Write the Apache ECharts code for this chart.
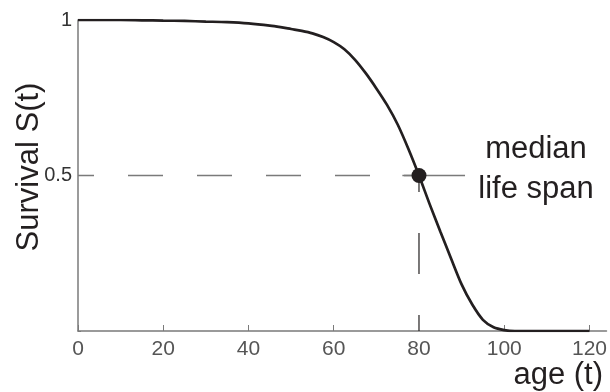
<!DOCTYPE html>
<html>
<head>
<meta charset="utf-8">
<script src="https://cdn.jsdelivr.net/npm/echarts@6/dist/echarts.min.js"></script>
<style>html,body{margin:0;padding:0;background:#fff}#c{width:610px;height:392px}</style>
</head>
<body>
<div id="c"></div>
<script>
// Data
var ages = [0, 5, 10, 15, 20, 25, 30, 35, 40, 45, 47.5, 50, 52.5, 55, 57.5, 60, 62.5, 65, 67.5, 70, 72.5, 75, 77.5, 80, 82.5, 85, 87.5, 90, 92.5, 95, 97.5, 100, 102.5, 105, 110, 115, 120];
var survival = [1.000, 1.000, 1.000, 0.999, 0.998, 0.997, 0.995, 0.993, 0.989, 0.982, 0.977, 0.971, 0.965, 0.957, 0.945, 0.929, 0.906, 0.872, 0.829, 0.780, 0.727, 0.664, 0.586, 0.500, 0.408, 0.320, 0.234, 0.150, 0.085, 0.036, 0.012, 0.003, 0.000, 0.000, 0.000, 0.000, 0.000];
var medianAge = 80;
var medianSurvival = 0.5;
var guideStartAge = 0;
var guideSolidFrom = 76.1;
var guideSolidTo = 90.8;
var xTicks = [0, 20, 40, 60, 80, 100, 120];
var xTickMarks = [0, 20, 40, 60, 100, 120];
var yTickLabels = [0.5, 1];
var yTickMarks = [0, 0.5, 1];
var xTitle = 'age (t)';
var yTitle = 'Survival S(t)';
var annotation = ['median', 'life span'];

var chart = echarts.init(document.getElementById('c'), null, {renderer: 'canvas'});
var font = '"Liberation Sans", Arial, Helvetica, sans-serif';
var curve = ages.map(function (a, i) { return [a, survival[i]]; });

function guide(points, color, width, type, offset, z) {
  return {
    type: 'line', data: points, showSymbol: false, symbol: 'none', silent: true, z: z || 3,
    lineStyle: {color: color, width: width, type: type, dashOffset: offset || 0},
    emphasis: {disabled: true}
  };
}

chart.setOption({
  animation: false,
  backgroundColor: '#ffffff',
  grid: {left: 78, right: 1, top: 20, bottom: 61, containLabel: false},
  xAxis: {
    type: 'value', min: 0, max: 124, interval: 20,
    axisLine: {show: true, onZero: false, lineStyle: {color: '#7a7a7a', width: 1.5}},
    axisTick: {show: true, inside: true, length: 6, customValues: xTickMarks, lineStyle: {color: '#7a7a7a', width: 1}},
    axisLabel: {show: true, customValues: xTicks, margin: 8, color: '#555', fontSize: 21, fontFamily: font},
    splitLine: {show: false}
  },
  yAxis: {
    type: 'value', min: 0, max: 1, interval: 0.5,
    axisLine: {show: true, onZero: false, lineStyle: {color: '#7a7a7a', width: 1.5}},
    axisTick: {show: true, inside: true, length: 3, customValues: yTickMarks, lineStyle: {color: '#7a7a7a', width: 1}},
    axisLabel: {show: true, customValues: yTickLabels, margin: 6, color: '#333', fontSize: 20, fontFamily: font,
      formatter: function (v) { return v === 1 ? '1' : String(v); }},
    splitLine: {show: false}
  },
  series: [
    guide([[guideStartAge, medianSurvival], [medianAge, medianSurvival]], '#7a7a7a', 1.3, [35, 34], 19, 3),
    guide([[guideSolidFrom, medianSurvival], [guideSolidTo, medianSurvival]], '#7a7a7a', 1.3, 'solid', 0, 3),
    guide([[medianAge, 0], [medianAge, medianSurvival]], '#231f20', 1.2, [41, 41], 25, 3),
    {
      type: 'line', data: curve, smooth: 0.3, showSymbol: false, symbol: 'none', silent: true,
      lineStyle: {color: '#231f20', width: 2.7}, z: 5
    },
    {
      type: 'scatter', data: [[medianAge, medianSurvival]], symbol: 'circle', symbolSize: 15,
      itemStyle: {color: '#231f20', opacity: 1}, z: 10, silent: true
    }
  ],
  graphic: [
    {type: 'text', x: 536, y: 149, style: {text: annotation[0], textAlign: 'center', textVerticalAlign: 'middle', font: '31px ' + font, fill: '#231f20'}},
    {type: 'text', x: 536, y: 189, style: {text: annotation[1], textAlign: 'center', textVerticalAlign: 'middle', font: '31px ' + font, fill: '#231f20'}},
    {type: 'text', x: 603, y: 375, style: {text: xTitle, textAlign: 'right', textVerticalAlign: 'middle', font: '31px ' + font, fill: '#231f20'}},
    {type: 'text', x: 29, y: 167, rotation: Math.PI / 2, style: {text: yTitle, textAlign: 'center', textVerticalAlign: 'middle', font: '31px ' + font, fill: '#231f20'}}
  ]
});
</script>
</body>
</html>
